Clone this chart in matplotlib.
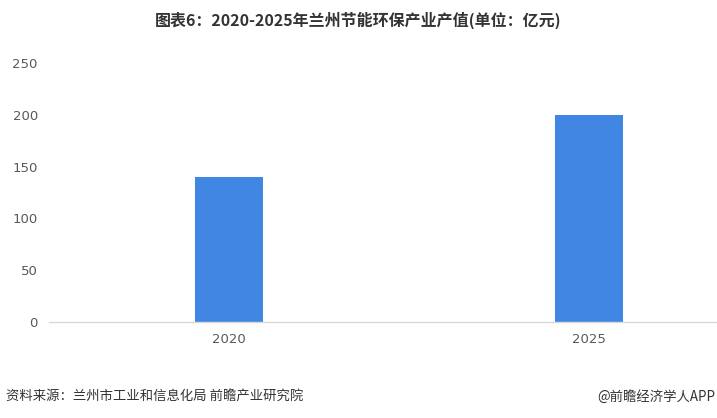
import matplotlib
matplotlib.use("Agg")
import matplotlib.pyplot as plt

plt.rcParams['font.family'] = ['Noto Sans CJK SC', 'DejaVu Sans']

# data
years = ["2020", "2025"]
values = [140, 200]
y_ticks = [0, 50, 100, 150, 200, 250]

bar_color = "#4286E3"
text_color = "#595959"

fig = plt.figure(figsize=(7.17, 4.18), dpi=100)
ax = fig.add_axes([0.0683, 0.2297, 0.9317, 0.6196])

x = list(range(len(years)))
ax.bar(x, values, width=0.19, color=bar_color, zorder=2)

ax.set_xlim(-0.5, 1.355)
ax.set_ylim(0, 250)
ax.set_yticks(y_ticks)
ax.set_yticklabels([str(t) for t in y_ticks], fontsize=9.5, color=text_color,
                   family='DejaVu Sans')
ax.set_xticks(x)
ax.set_xticklabels(years, fontsize=9.5, color=text_color, family='DejaVu Sans')
ax.tick_params(axis='both', length=0)
ax.tick_params(axis='y', pad=8)
ax.tick_params(axis='x', pad=8)

for side in ['top', 'right', 'left']:
    ax.spines[side].set_visible(False)
ax.spines['bottom'].set_color("#D9D9D9")
ax.spines['bottom'].set_linewidth(1)

fig.text(0.5, 0.952, "图表6：2020-2025年兰州节能环保产业产值(单位：亿元)",
         ha='center', va='center', fontsize=11.5, fontweight='bold', color="#333333")
fig.text(0.008, 0.05, "资料来源：兰州市工业和信息化局 前瞻产业研究院",
         ha='left', va='center', fontsize=9.6, color="#333333")
fig.text(0.997, 0.05, "@前瞻经济学人APP",
         ha='right', va='center', fontsize=9.6, color="#333333")

fig.savefig("out.png", dpi=100)
